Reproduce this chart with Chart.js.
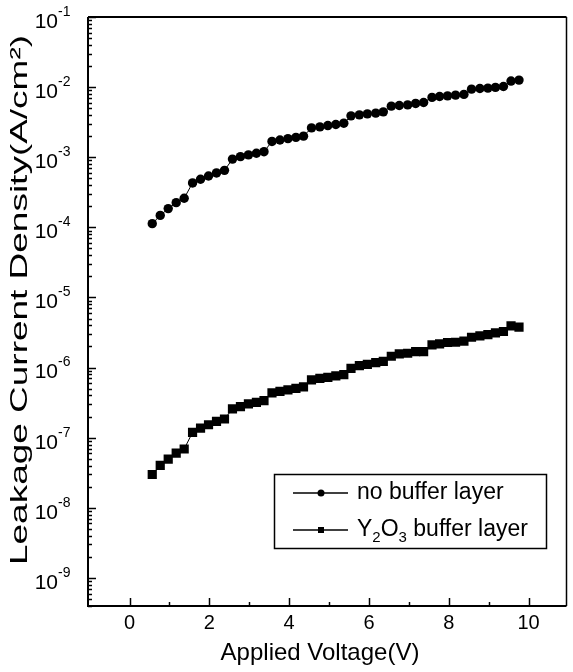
<!DOCTYPE html>
<html>
<head>
<meta charset="utf-8">
<script src="https://cdn.jsdelivr.net/npm/chart.js@4.4.1/dist/chart.umd.min.js"></script>
<style>
  html, body { margin: 0; padding: 0; background: #fff; }
  #wrap { width: 573px; height: 672px; }
</style>
</head>
<body>
<div id="wrap"><canvas id="chart" width="573" height="672"></canvas></div>
<script>
// Applied voltage (V), shared by both curves
const voltage = [
  0.57, 0.77, 0.97, 1.17, 1.37, 1.58, 1.78, 1.98, 2.18, 2.38,
  2.58, 2.78, 2.98, 3.18, 3.37, 3.57, 3.77, 3.97, 4.17, 4.36,
  4.56, 4.77, 4.97, 5.17, 5.37, 5.55, 5.76, 5.96, 6.17, 6.36,
  6.56, 6.76, 6.97, 7.17, 7.37, 7.58, 7.77, 7.97, 8.17, 8.38,
  8.57, 8.78, 8.98, 9.17, 9.37, 9.56, 9.76
];
// leakage current density (A/cm2)
const noBuffer = [
  1.13e-4, 1.48e-4, 1.85e-4, 2.25e-4, 2.6e-4, 4.3e-4, 4.85e-4, 5.4e-4, 5.97e-4, 6.5e-4,
  9.4e-4, 1.02e-3, 1.08e-3, 1.14e-3, 1.2e-3, 1.68e-3, 1.76e-3, 1.84e-3, 1.92e-3, 2.0e-3,
  2.62e-3, 2.71e-3, 2.83e-3, 2.93e-3, 3.06e-3, 3.89e-3, 4.02e-3, 4.16e-3, 4.25e-3, 4.44e-3,
  5.35e-3, 5.47e-3, 5.58e-3, 5.85e-3, 6.04e-3, 7.13e-3, 7.36e-3, 7.51e-3, 7.69e-3, 7.87e-3,
  9.36e-3, 9.57e-3, 9.68e-3, 9.9e-3, 1.02e-2, 1.22e-2, 1.26e-2
];
const y2o3Buffer = [
  2.99e-8, 4.02e-8, 4.96e-8, 6.04e-8, 6.9e-8, 1.19e-7, 1.37e-7, 1.53e-7, 1.71e-7, 1.85e-7,
  2.57e-7, 2.77e-7, 3.03e-7, 3.19e-7, 3.38e-7, 4.35e-7, 4.58e-7, 4.8e-7, 5.06e-7, 5.3e-7,
  6.7e-7, 7.03e-7, 7.26e-7, 7.6e-7, 7.94e-7, 9.77e-7, 1.07e-6, 1.11e-6, 1.18e-6, 1.23e-6,
  1.45e-6, 1.57e-6, 1.6e-6, 1.69e-6, 1.69e-6, 2.11e-6, 2.18e-6, 2.28e-6, 2.3e-6, 2.38e-6,
  2.71e-6, 2.84e-6, 2.96e-6, 3.13e-6, 3.27e-6, 3.94e-6, 3.77e-6
];
const xTickLabels = [0, 2, 4, 6, 8, 10];
const xMinorTicks = [1, 3, 5, 7, 9];
const yDecades = [-1, -2, -3, -4, -5, -6, -7, -8, -9];

const FONT = '"Liberation Sans", Arial, Helvetica, sans-serif';

function toPoints(ys) {
  return voltage.map((v, i) => ({ x: v, y: ys[i] }));
}

// axes, ticks, labels, titles and legend drawn from the chart scales
const framePlugin = {
  id: 'frame',
  afterDraw(chart) {
    const ctx = chart.ctx;
    const a = chart.chartArea;
    const xs = chart.scales.x, ys = chart.scales.y;
    ctx.save();
    ctx.strokeStyle = '#000';
    ctx.fillStyle = '#000';

    // box
    ctx.lineWidth = 2;
    ctx.beginPath();
    ctx.moveTo(a.left, a.top); ctx.lineTo(a.left, a.bottom); ctx.lineTo(a.right, a.bottom);
    ctx.moveTo(a.left, a.top); ctx.lineTo(a.right, a.top);
    ctx.stroke();
    ctx.lineWidth = 1.5;
    ctx.beginPath();
    ctx.moveTo(a.right, a.top); ctx.lineTo(a.right, a.bottom);
    ctx.stroke();

    // y ticks (inside)
    ctx.lineWidth = 1.5;
    for (let d = -10; d <= -1; d++) {
      for (let k = 1; k <= 9; k++) {
        const v = k * Math.pow(10, d);
        if (v < ys.min || v > ys.max) continue;
        const py = Math.round(ys.getPixelForValue(v)) + 0.5;
        const len = k === 1 ? 8 : 4;
        ctx.beginPath();
        ctx.moveTo(a.left, py); ctx.lineTo(a.left + len, py);
        ctx.stroke();
      }
    }
    // x ticks (inside)
    xTickLabels.forEach(v => {
      const px = Math.round(xs.getPixelForValue(v)) + 0.5;
      ctx.beginPath(); ctx.moveTo(px, a.bottom); ctx.lineTo(px, a.bottom - 8); ctx.stroke();
    });
    xMinorTicks.forEach(v => {
      const px = Math.round(xs.getPixelForValue(v)) + 0.5;
      ctx.beginPath(); ctx.moveTo(px, a.bottom); ctx.lineTo(px, a.bottom - 4); ctx.stroke();
    });

    // x tick labels
    ctx.font = '20px ' + FONT;
    ctx.textAlign = 'center';
    ctx.textBaseline = 'alphabetic';
    xTickLabels.forEach(v => {
      ctx.fillText(String(v), xs.getPixelForValue(v), a.bottom + 23);
    });

    // y tick labels 10^n
    yDecades.forEach(d => {
      const py = ys.getPixelForValue(Math.pow(10, d));
      ctx.font = '21px ' + FONT;
      ctx.textAlign = 'right';
      ctx.textBaseline = 'middle';
      ctx.fillText('10', 58, py + 5);
      ctx.font = '14px ' + FONT;
      ctx.textAlign = 'left';
      ctx.fillText(String(d), 58, py - 5);
    });

    // x title
    ctx.font = '24px ' + FONT;
    ctx.textAlign = 'center';
    ctx.textBaseline = 'alphabetic';
    ctx.fillText('Applied Voltage(V)', 320, 660);

    // y title (stretched along its length like the scan)
    const yTitle = 'Leakage Current Density(A/cm²)';
    ctx.save();
    ctx.translate(27, 300);
    ctx.rotate(-Math.PI / 2);
    ctx.font = '24px ' + FONT;
    const sx = 530 / ctx.measureText(yTitle).width;
    ctx.scale(sx, 1);
    ctx.textAlign = 'center';
    ctx.fillText(yTitle, 0, 0);
    ctx.restore();

    // legend
    ctx.lineWidth = 1.5;
    ctx.strokeRect(274.5, 474.5, 272, 74);
    const rows = [493, 530];
    rows.forEach((ry, i) => {
      ctx.beginPath(); ctx.moveTo(293, ry); ctx.lineTo(348, ry); ctx.stroke();
      if (i === 0) {
        ctx.beginPath(); ctx.arc(321, ry, 3.5, 0, Math.PI * 2); ctx.fill();
      } else {
        ctx.fillRect(318, ry - 3, 6, 6);
      }
    });
    ctx.font = '23px ' + FONT;
    ctx.textAlign = 'left';
    ctx.textBaseline = 'middle';
    ctx.fillText('no buffer layer', 357, rows[0]);
    // Y2O3 with subscripts
    let tx = 357;
    const ry = rows[1];
    const sub = (s) => {
      ctx.font = '15px ' + FONT;
      ctx.fillText(s, tx, ry + 8);
      tx += ctx.measureText(s).width;
    };
    const big = (s) => {
      ctx.font = '23px ' + FONT;
      ctx.fillText(s, tx, ry);
      tx += ctx.measureText(s).width;
    };
    big('Y'); sub('2'); big('O'); sub('3'); big(' buffer layer');

    ctx.restore();
  }
};

new Chart(document.getElementById('chart'), {
  type: 'line',
  data: {
    datasets: [
      {
        label: 'no buffer layer',
        data: toPoints(noBuffer),
        borderColor: '#000',
        backgroundColor: '#000',
        borderWidth: 1,
        pointStyle: 'circle',
        pointRadius: 4.7,
        pointBorderWidth: 0,
        tension: 0
      },
      {
        label: 'Y2O3 buffer layer',
        data: toPoints(y2o3Buffer),
        borderColor: '#000',
        backgroundColor: '#000',
        borderWidth: 1,
        pointStyle: 'rect',
        pointRadius: 6.5,
        pointBorderWidth: 0,
        tension: 0
      }
    ]
  },
  options: {
    responsive: false,
    devicePixelRatio: 1,
    animation: false,
    layout: { padding: { top: 17, right: 1, left: 0, bottom: 0 } },
    plugins: {
      legend: { display: false },
      tooltip: { enabled: false }
    },
    scales: {
      x: {
        type: 'linear',
        min: -1.04,
        max: 10.95,
        grid: { display: false, drawTicks: false },
        border: { display: false },
        ticks: { display: false },
        afterFit(s) { s.height = 66; }
      },
      y: {
        type: 'logarithmic',
        min: 3.98e-10,
        max: 0.1,
        grid: { display: false, drawTicks: false },
        border: { display: false },
        ticks: { display: false },
        afterFit(s) { s.width = 88; }
      }
    }
  },
  plugins: [framePlugin]
});
</script>
</body>
</html>
